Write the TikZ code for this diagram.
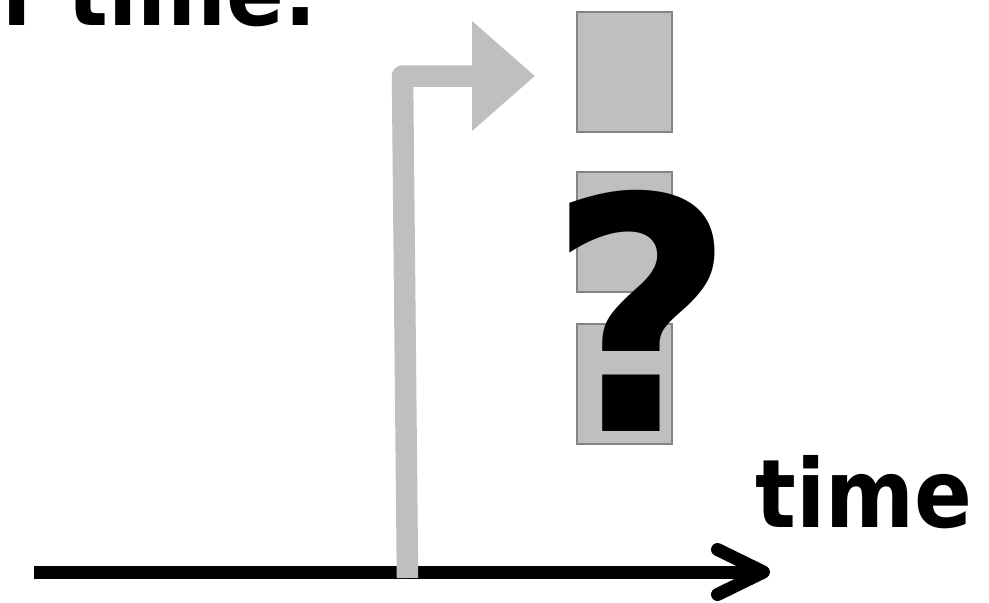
\documentclass[tikz,border=0pt]{standalone}
\usepackage{fontspec}
\setmainfont{DejaVu Sans}
\newfontfamily\wordfont{DejaVu Sans}[FakeStretch=0.9]
\usetikzlibrary{arrows.meta,shadows}
\definecolor{slotfill}{HTML}{BFBFBF}
\definecolor{slotline}{HTML}{858585}
\tikzset{
  slot/.style={draw=slotline, fill=slotfill, line width=0.04cm,
    minimum width=1.9cm, minimum height=2.4cm, inner sep=0pt,
    drop shadow={shadow xshift=0.3pt, shadow yshift=-0.8pt, opacity=0.25}},
  axis/.style={-{Straight Barb[length=0.92cm, width=0.9cm, round]},
    line width=0.26cm, color=black},
  jump/.style={-{Triangle[length=1.26cm, width=2.12cm]}, line width=0.43cm,
    color=slotfill, line join=round},
  word/.style={font=\wordfont\bfseries\fontsize{54}{60}\selectfont, inner sep=0pt},
  bigmark/.style={font=\bfseries\fontsize{185}{190}\selectfont, inner sep=0pt},
}
\begin{document}
\begin{tikzpicture}[x=0.02cm,y=-0.02cm]
  \clip (0,0) rectangle (989,602);
  % the three slots
  \node[slot] (s1) at (624.5,72) {};
  \node[slot] (s2) at (624.5,232) {};
  \node[slot] (s3) at (624.5,384) {};
  \node[bigmark] (q) at (642,311) {?};
  \node[word, anchor=base west] (tlab) at (755,527) {time};
  \node[word, anchor=base east] (head) at (317,25) {n\hspace{0.38em}time.};
  % time axis
  \coordinate (t0) at (34,572);
  \coordinate (t1) at (770,572);
  \draw[axis] (t0) -- (t1);
  % the jump up to the first slot
  \coordinate (gfoot) at (407.5,578);
  \coordinate (gbend) at (402.5,76);
  \coordinate (gtip) at (535,76);
  \draw[jump] (gfoot) -- (gbend) -- (gtip);
\end{tikzpicture}
\end{document}
